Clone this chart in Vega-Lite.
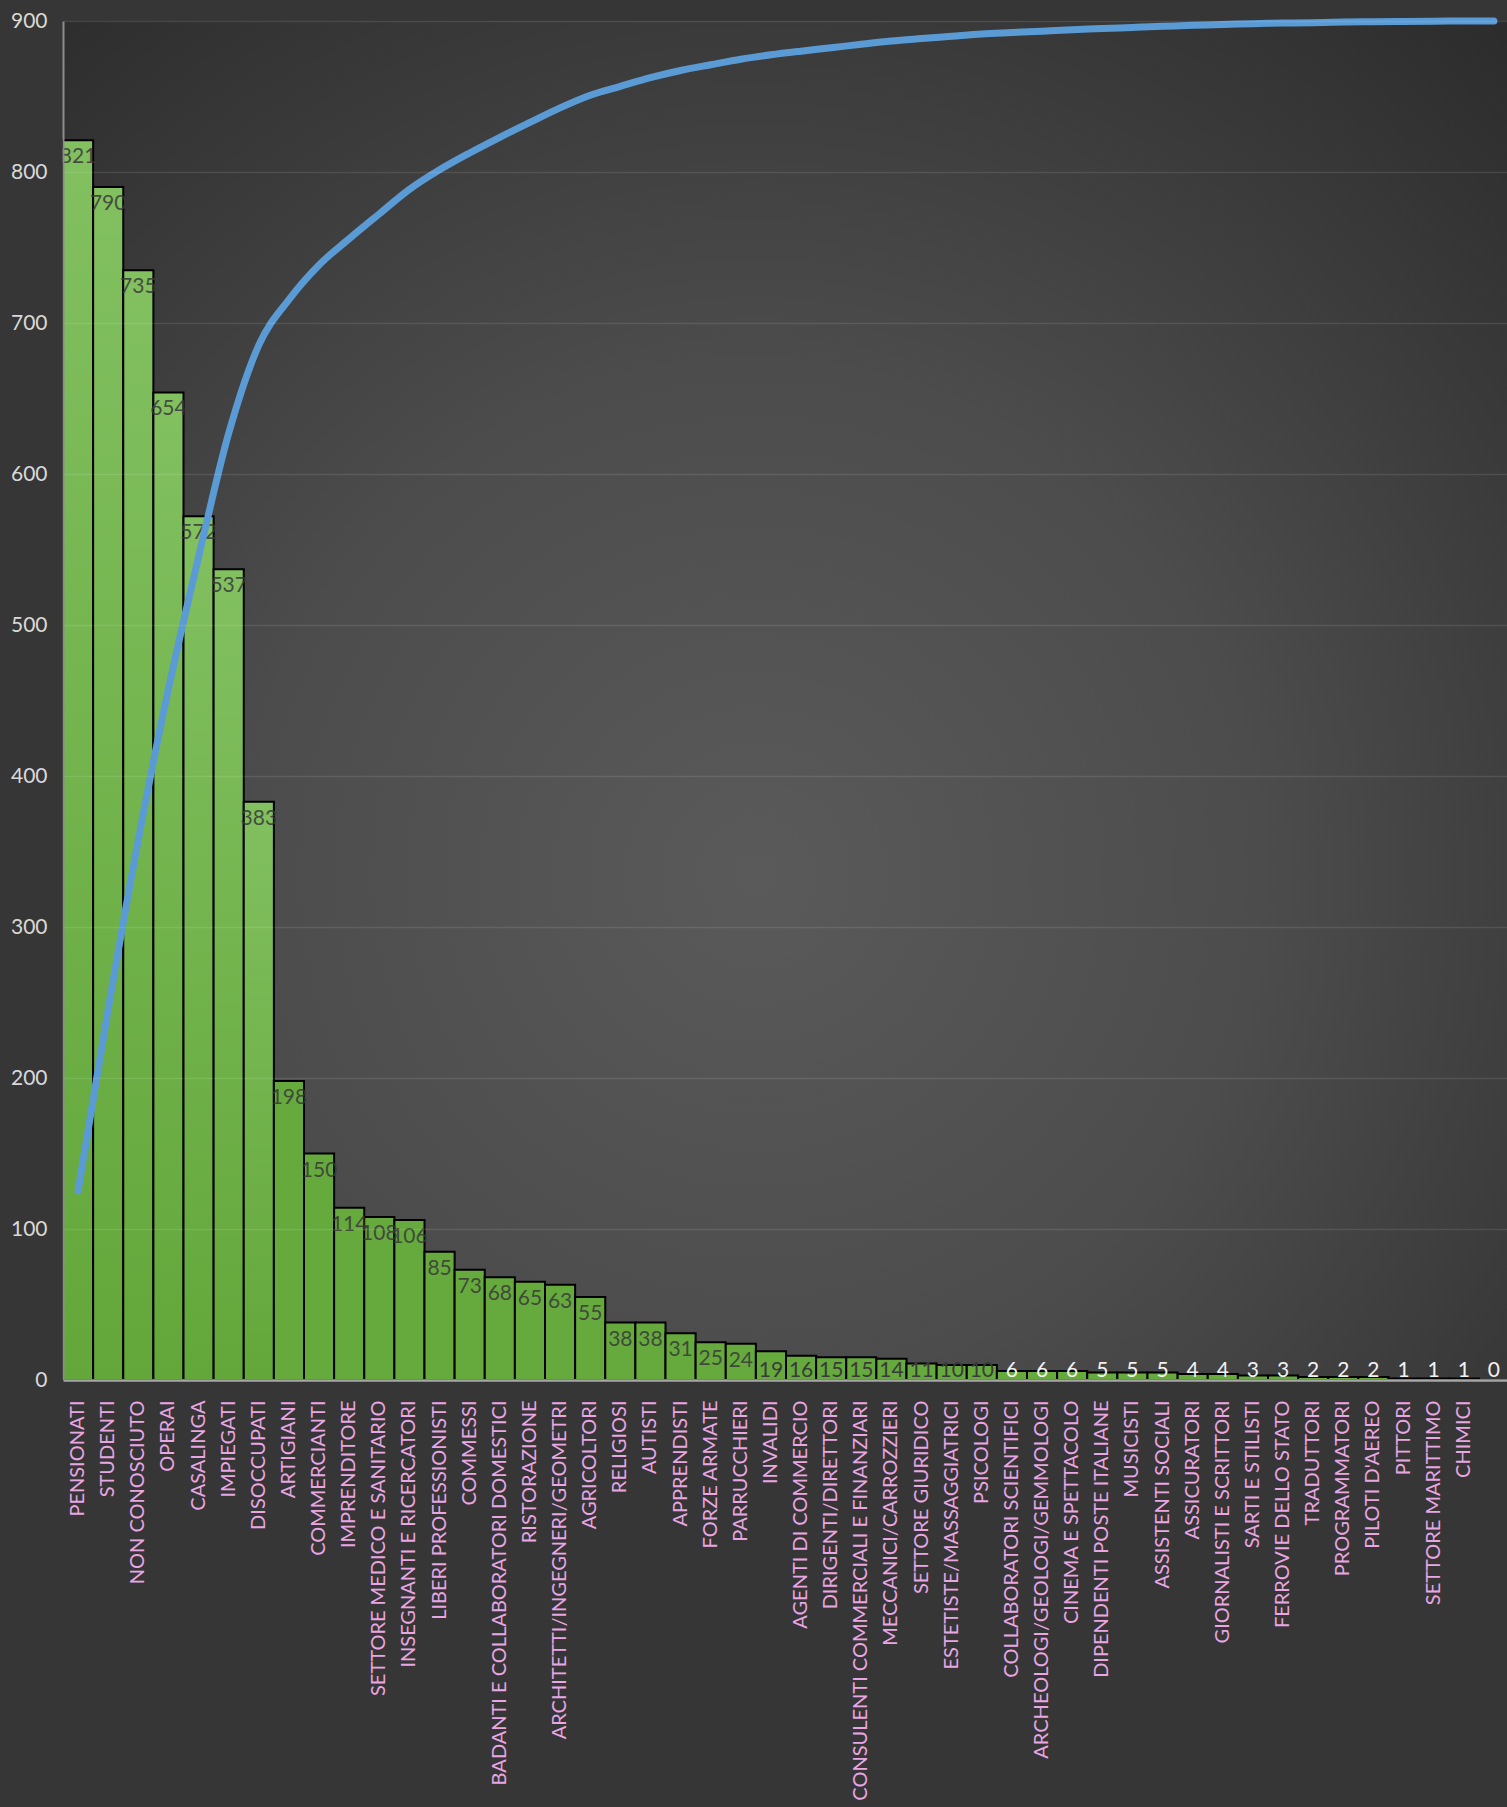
{
  "$schema": "https://vega.github.io/schema/vega-lite/v6.json",
  "autosize": "none",
  "width": 1446,
  "height": 1359,
  "padding": {"left": 63, "top": 21, "right": 0, "bottom": 427},
  "background": "#363636",
  "config": {
    "view": {
      "stroke": null,
      "fill": {"gradient": "radial", "x1": 0.48, "y1": 0.62, "r1": 0, "x2": 0.48, "y2": 0.62, "r2": 0.78,
        "stops": [{"offset": 0, "color": "#5a5a5a"}, {"offset": 0.45, "color": "#4c4c4c"}, {"offset": 1, "color": "#2c2c2c"}]}
    },
    "font": "Lato"
  },
  "data": {"values": [
    {"c": "PENSIONATI", "v": 821, "cum": 13.92},
    {"c": "STUDENTI", "v": 790, "cum": 27.31},
    {"c": "NON CONOSCIUTO", "v": 735, "cum": 39.77},
    {"c": "OPERAI", "v": 654, "cum": 50.86},
    {"c": "CASALINGA", "v": 572, "cum": 60.55},
    {"c": "IMPIEGATI", "v": 537, "cum": 69.66},
    {"c": "DISOCCUPATI", "v": 383, "cum": 76.15},
    {"c": "ARTIGIANI", "v": 198, "cum": 79.50},
    {"c": "COMMERCIANTI", "v": 150, "cum": 82.05},
    {"c": "IMPRENDITORE", "v": 114, "cum": 83.98},
    {"c": "SETTORE MEDICO E SANITARIO", "v": 108, "cum": 85.81},
    {"c": "INSEGNANTI E RICERCATORI", "v": 106, "cum": 87.61},
    {"c": "LIBERI PROFESSIONISTI", "v": 85, "cum": 89.05},
    {"c": "COMMESSI", "v": 73, "cum": 90.29},
    {"c": "BADANTI E COLLABORATORI DOMESTICI", "v": 68, "cum": 91.44},
    {"c": "RISTORAZIONE", "v": 65, "cum": 92.54},
    {"c": "ARCHITETTI/INGEGNERI/GEOMETRI", "v": 63, "cum": 93.61},
    {"c": "AGRICOLTORI", "v": 55, "cum": 94.54},
    {"c": "RELIGIOSI", "v": 38, "cum": 95.19},
    {"c": "AUTISTI", "v": 38, "cum": 95.83},
    {"c": "APPRENDISTI", "v": 31, "cum": 96.36},
    {"c": "FORZE ARMATE", "v": 25, "cum": 96.78},
    {"c": "PARRUCCHIERI", "v": 24, "cum": 97.19},
    {"c": "INVALIDI", "v": 19, "cum": 97.51},
    {"c": "AGENTI DI COMMERCIO", "v": 16, "cum": 97.78},
    {"c": "DIRIGENTI/DIRETTORI", "v": 15, "cum": 98.03},
    {"c": "CONSULENTI COMMERCIALI E FINANZIARI", "v": 15, "cum": 98.29},
    {"c": "MECCANICI/CARROZZIERI", "v": 14, "cum": 98.53},
    {"c": "SETTORE GIURIDICO", "v": 11, "cum": 98.71},
    {"c": "ESTETISTE/MASSAGGIATRICI", "v": 10, "cum": 98.88},
    {"c": "PSICOLOGI", "v": 10, "cum": 99.05},
    {"c": "COLLABORATORI SCIENTIFICI", "v": 6, "cum": 99.15},
    {"c": "ARCHEOLOGI/GEOLOGI/GEMMOLOGI", "v": 6, "cum": 99.25},
    {"c": "CINEMA E SPETTACOLO", "v": 6, "cum": 99.36},
    {"c": "DIPENDENTI POSTE ITALIANE", "v": 5, "cum": 99.44},
    {"c": "MUSICISTI", "v": 5, "cum": 99.53},
    {"c": "ASSISTENTI SOCIALI", "v": 5, "cum": 99.61},
    {"c": "ASSICURATORI", "v": 4, "cum": 99.68},
    {"c": "GIORNALISTI E SCRITTORI", "v": 4, "cum": 99.75},
    {"c": "SARTI E STILISTI", "v": 3, "cum": 99.80},
    {"c": "FERROVIE DELLO STATO", "v": 3, "cum": 99.85},
    {"c": "TRADUTTORI", "v": 2, "cum": 99.88},
    {"c": "PROGRAMMATORI", "v": 2, "cum": 99.92},
    {"c": "PILOTI D'AEREO", "v": 2, "cum": 99.95},
    {"c": "PITTORI", "v": 1, "cum": 99.97},
    {"c": "SETTORE MARITTIMO", "v": 1, "cum": 99.98},
    {"c": "CHIMICI", "v": 1, "cum": 100},
    {"c": "", "v": 0, "cum": 100}
  ]},
  "encoding": {
    "x": {
      "field": "c", "type": "nominal", "sort": null,
      "scale": {"paddingInner": 0, "paddingOuter": 0},
      "axis": {
        "title": null, "labelAngle": -90, "labelColor": "#e9a6e3", "labelFontSize": 20, "labelFont": "Lato",
        "labelLimit": 1000, "labelPadding": 20, "ticks": false, "tickSize": 0,
        "domainColor": "#a6a6a6", "domainWidth": 2.5, "zindex": 1, "grid": false
      }
    }
  },
  "layer": [
    {
      "encoding": {
        "y": {"field": "v", "type": "quantitative", "scale": {"domain": [0, 900], "nice": false},
          "axis": {"title": null, "values": [0,100,200,300,400,500,600,700,800,900], "labelColor": "#d9d9d9",
            "labelFontSize": 21, "labelFont": "Lato", "labelPadding": 16, "ticks": false, "tickSize": 0,
            "domainColor": "#8c8c8c", "domainWidth": 2, "gridColor": "#ffffff", "gridOpacity": 0.1, "gridWidth": 1.5, "zindex": 1}}
      },
      "layer": [
        {
          "transform": [{"filter": "datum.v >= 380"}],
          "mark": {"type": "bar", "stroke": "#000000", "strokeWidth": 2,
            "color": {"gradient": "linear", "x1": 0, "y1": 0, "x2": 0, "y2": 1,
              "stops": [{"offset": 0, "color": "#82c060"}, {"offset": 1, "color": "#63a73a"}]}}
        },
        {
          "transform": [{"filter": "datum.v < 380"}],
          "mark": {"type": "bar", "stroke": "#000000", "strokeWidth": 2, "color": "#66aa3d"}
        },
        {
          "transform": [{"filter": "datum.v >= 20"}],
          "mark": {"type": "text", "baseline": "top", "align": "center", "dy": 6, "fontSize": 21, "font": "Lato", "color": "#3a3a3a", "opacity": 0.85},
          "encoding": {"text": {"field": "v", "type": "quantitative"}}
        },
        {
          "transform": [{"filter": "datum.v < 20"}],
          "mark": {"type": "text", "baseline": "alphabetic", "align": "center", "dy": -3, "fontSize": 21, "font": "Lato"},
          "encoding": {
            "y": {"datum": 0},
            "text": {"field": "v", "type": "quantitative"},
            "color": {"condition": {"test": "datum.v >= 10", "value": "#3a3a3a"}, "value": "#f2f2f2"}
          }
        }
      ]
    },
    {
      "mark": {"type": "line", "color": "#5b9bd5", "strokeWidth": 7, "strokeCap": "round", "strokeJoin": "round", "interpolate": "monotone"},
      "encoding": {
        "y": {"field": "cum", "type": "quantitative", "scale": {"domain": [0, 100], "nice": false}, "axis": null}
      }
    }
  ],
  "resolve": {"scale": {"y": "independent"}}
}
